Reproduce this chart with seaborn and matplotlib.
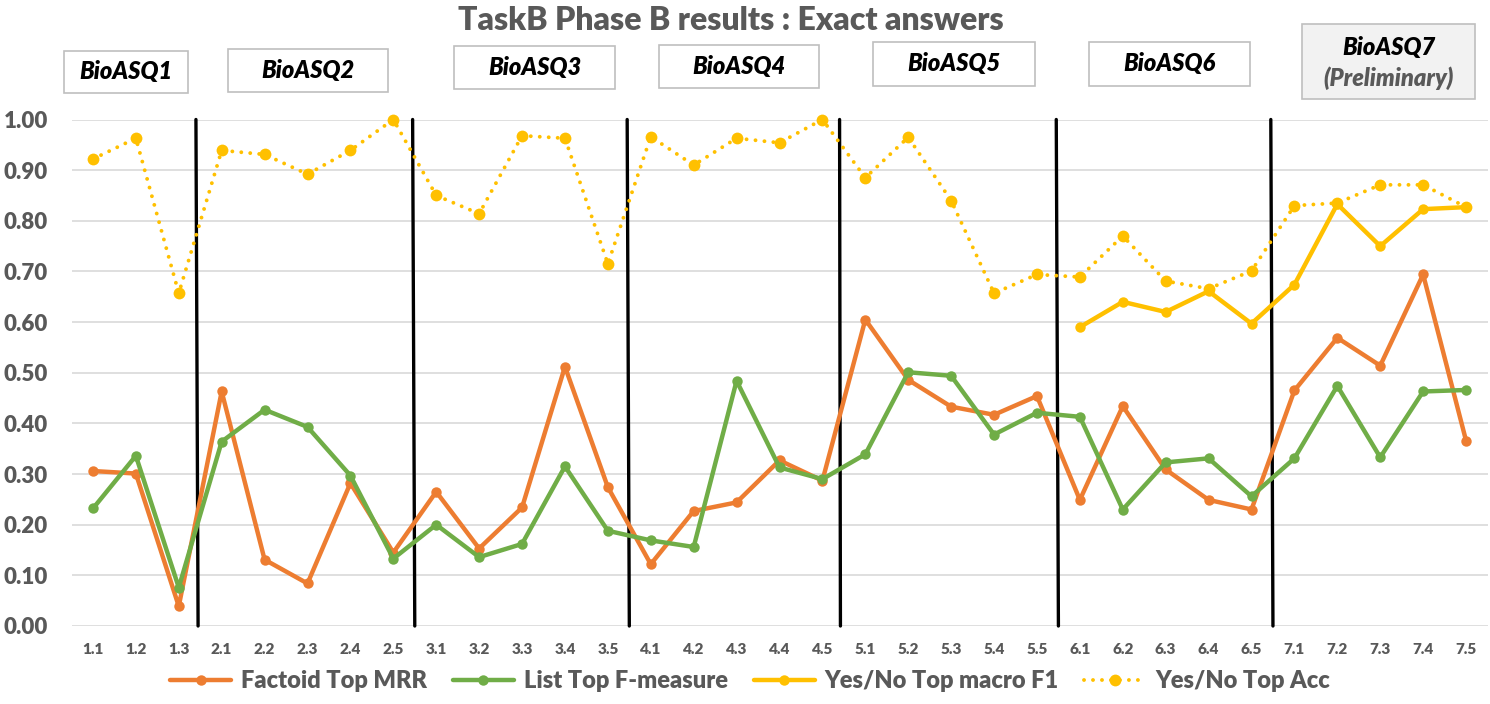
import numpy as np
import pandas as pd
import matplotlib.pyplot as plt
import seaborn as sns
from matplotlib.patches import Rectangle

# data
labels = ['1.1', '1.2', '1.3',
          '2.1', '2.2', '2.3', '2.4', '2.5',
          '3.1', '3.2', '3.3', '3.4', '3.5',
          '4.1', '4.2', '4.3', '4.4', '4.5',
          '5.1', '5.2', '5.3', '5.4', '5.5',
          '6.1', '6.2', '6.3', '6.4', '6.5',
          '7.1', '7.2', '7.3', '7.4', '7.5']

factoid_mrr = [0.306, 0.301, 0.039,
               0.463, 0.131, 0.084, 0.282, 0.145,
               0.265, 0.153, 0.234, 0.512, 0.274,
               0.122, 0.227, 0.244, 0.327, 0.287,
               0.605, 0.486, 0.433, 0.417, 0.454,
               0.249, 0.434, 0.309, 0.249, 0.230,
               0.465, 0.569, 0.514, 0.694, 0.366]

list_f = [0.232, 0.336, 0.076,
          0.364, 0.427, 0.393, 0.297, 0.133,
          0.200, 0.136, 0.162, 0.315, 0.188,
          0.169, 0.156, 0.484, 0.313, 0.290,
          0.339, 0.501, 0.494, 0.378, 0.421,
          0.413, 0.230, 0.323, 0.331, 0.256,
          0.331, 0.474, 0.333, 0.463, 0.466]

yesno_f1 = [np.nan] * 23 + [0.590, 0.640, 0.620, 0.661, 0.597,
                            0.674, 0.833, 0.750, 0.823, 0.827]

yesno_acc = [0.922, 0.963, 0.657,
             0.939, 0.931, 0.892, 0.939, 1.000,
             0.850, 0.814, 0.968, 0.963, 0.715,
             0.966, 0.910, 0.963, 0.954, 1.000,
             0.885, 0.965, 0.840, 0.657, 0.694,
             0.689, 0.770, 0.681, 0.666, 0.701,
             0.830, 0.835, 0.871, 0.871, 0.827]

series_names = ['Factoid Top MRR', 'List Top F-measure',
                'Yes/No Top macro F1', 'Yes/No Top Acc']
editions = ['BioASQ1', 'BioASQ2', 'BioASQ3', 'BioASQ4',
            'BioASQ5', 'BioASQ6', 'BioASQ7']
# separator positions (between editions), slightly tilted like the original
sep_top = [2.40, 7.45, 12.45, 17.40, 22.45, 27.45]
sep_bottom = [2.45, 7.50, 12.50, 17.42, 22.50, 27.50]

ORANGE = '#ED7D31'
GREEN = '#70AD47'
YELLOW = '#FFC000'
GRAY = '#595959'

sns.set_theme(style='white')
plt.rcParams['font.family'] = ['Lato', 'DejaVu Sans']

x = np.arange(len(labels))
df = pd.DataFrame({'x': x, series_names[0]: factoid_mrr, series_names[1]: list_f,
                   series_names[2]: yesno_f1, series_names[3]: yesno_acc})

W, H = 1490, 704
fig = plt.figure(figsize=(W / 100, H / 100), dpi=100)
ax = fig.add_axes([71.5 / W, 1 - 626 / H, 1416 / W, 506.5 / H])

for xt, xb in zip(sep_top, sep_bottom):
    ax.plot([xb, xt], [0, 1.0], color='black', lw=2.4, zorder=1, clip_on=False)

sns.lineplot(data=df, x='x', y=series_names[3], ax=ax, color=YELLOW, lw=2.8,
             marker='o', markersize=8.5, markeredgewidth=0, label=series_names[3],
             zorder=3, clip_on=False)
acc_line = ax.lines[-1]
acc_line.set_linestyle((0, (0.01, 2.3)))
acc_line.set_dash_capstyle('round')
sns.lineplot(data=df, x='x', y=series_names[0], ax=ax, color=ORANGE, lw=3.2,
             marker='o', markersize=7.5, markeredgewidth=0, label=series_names[0],
             zorder=4, clip_on=False)
sns.lineplot(data=df, x='x', y=series_names[1], ax=ax, color=GREEN, lw=3.2,
             marker='o', markersize=7.5, markeredgewidth=0, label=series_names[1],
             zorder=4, clip_on=False)
sns.lineplot(data=df, x='x', y=series_names[2], ax=ax, color=YELLOW, lw=3.2,
             marker='o', markersize=7.5, markeredgewidth=0, label=series_names[2],
             zorder=4, clip_on=False)

ax.set_xlim(-0.5, len(labels) - 0.5)
ax.set_ylim(0, 1.0)
ax.set_yticks(np.arange(0, 1.01, 0.1))
ax.set_yticklabels([f'{v:.2f}' for v in np.arange(0, 1.01, 0.1)],
                   fontsize=16, fontweight='heavy', color=GRAY)
ax.set_xticks(x)
ax.set_xticklabels(labels, fontsize=11, fontweight='heavy', color=GRAY)
ax.tick_params(axis='x', length=0, pad=12)
ax.tick_params(axis='y', length=0, pad=17)
ax.set_xlabel('')
ax.set_ylabel('')
ax.yaxis.grid(True, color='#d9d9d9', lw=1.2)
ax.set_axisbelow(True)
for s in ax.spines.values():
    s.set_visible(False)

# legend in the original order
handles, lbls = ax.get_legend_handles_labels()
order = [lbls.index(n) for n in series_names]
ax.get_legend().remove()
fig.legend([handles[i] for i in order], [lbls[i] for i in order],
           loc='center', bbox_to_anchor=(750 / W, 1 - 681 / H), ncol=4,
           frameon=False, handlelength=2.6, handletextpad=0.4, columnspacing=1.1,
           prop={'size': 17, 'weight': 'heavy'}, labelcolor=GRAY)

fig.text(731 / W, 1 - 20 / H, 'TaskB Phase B results : Exact answers',
         ha='center', va='center', fontsize=23, fontweight='heavy', color=GRAY)

# edition boxes (pixel boxes: x0, x1, y0, y1)
boxes = [(64, 188, 51, 93), (228, 388, 49, 92), (454, 615, 46, 89),
         (659, 819, 45, 88), (873, 1035, 42, 86), (1089, 1250, 42, 86),
         (1302, 1475, 24, 99)]
for name, (x0, x1, y0, y1) in zip(editions, boxes):
    last = name == editions[-1]
    fig.patches.append(Rectangle((x0 / W, 1 - y1 / H), (x1 - x0) / W, (y1 - y0) / H,
                                 transform=fig.transFigure, facecolor='#f2f2f2' if last else 'white',
                                 edgecolor='#bfbfbf', lw=1.2))
    if last:
        fig.text((x0 + x1) / 2 / W, 1 - 47 / H, name, ha='center', va='center',
                 fontsize=17, fontweight='heavy', style='italic', color='black')
        fig.text((x0 + x1) / 2 / W, 1 - 78 / H, '(Preliminary)', ha='center', va='center',
                 fontsize=17, fontweight='heavy', style='italic', color=GRAY)
    else:
        fig.text((x0 + x1) / 2 / W, 1 - (y0 + y1) / 2 / H, name, ha='center', va='center',
                 fontsize=17, fontweight='heavy', style='italic', color='black')

fig.savefig('out.png', dpi=100)
